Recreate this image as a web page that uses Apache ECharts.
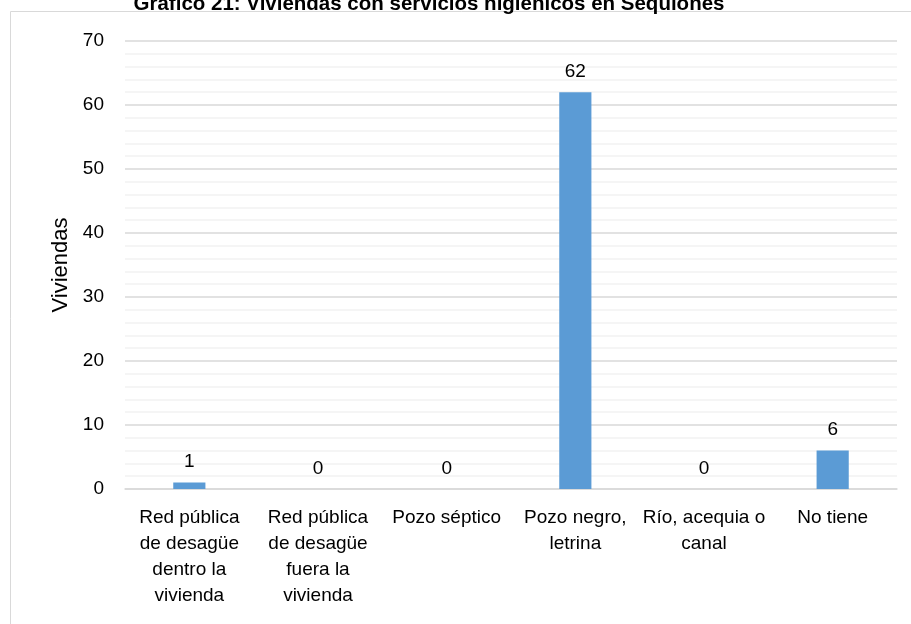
<!DOCTYPE html>
<html>
<head>
<meta charset="utf-8">
<script src="https://cdn.jsdelivr.net/npm/echarts@6/dist/echarts.min.js"></script>
<style>
  html, body { margin: 0; padding: 0; background: #fff; }
  #chart { width: 911px; height: 624px; }
</style>
</head>
<body>
<div id="chart"></div>
<script>
// datos del gráfico
const categories = [
  "Red pública\nde desagüe\ndentro la\nvivienda",
  "Red pública\nde desagüe\nfuera la\nvivienda",
  "Pozo séptico",
  "Pozo negro,\nletrina",
  "Río, acequia o\ncanal",
  "No tiene",
];
const viviendas = [1, 0, 0, 62, 0, 6];
const titleText = "Gráfico 21: Viviendas con servicios higiénicos en Sequiones";
const yName = "Viviendas";

const FONT = "'Liberation Sans', Arial, sans-serif";

const chart = echarts.init(document.getElementById("chart"));
chart.setOption({
  animation: false,
  textStyle: { fontFamily: FONT },
  title: {
    text: titleText,
    left: 424,
    textAlign: "center",
    top: -11,
    textStyle: { fontFamily: FONT, fontSize: 20.5, fontWeight: "bold", color: "#000" },
  },
  graphic: [
    {
      // marco del gráfico (se sale por la derecha y abajo)
      type: "rect",
      shape: { x: 10.5, y: 11.5, width: 1000, height: 700 },
      style: { fill: "none", stroke: "#d9d9d9", lineWidth: 1 },
      silent: true,
      z: -1,
    },
  ],
  grid: { left: 125, right: 14, top: 41, bottom: 135 },
  xAxis: {
    type: "category",
    data: categories,
    axisLine: { show: true, lineStyle: { color: "#d9d9d9", width: 1.5 } },
    axisTick: { show: false },
    axisLabel: {
      interval: 0,
      margin: 16,
      fontSize: 19,
      lineHeight: 26,
      color: "#000",
      fontFamily: FONT,
    },
  },
  yAxis: {
    type: "value",
    min: 0,
    max: 70,
    interval: 10,
    name: yName,
    nameLocation: "middle",
    nameGap: 52,
    nameTextStyle: { fontSize: 22, color: "#000", fontFamily: FONT },
    axisLine: { show: false },
    axisTick: { show: false },
    axisLabel: { margin: 21, fontSize: 19, color: "#000", fontFamily: FONT },
    splitLine: { lineStyle: { color: "#d9d9d9", width: 1.5 } },
    minorTick: { show: false, splitNumber: 5 },
    minorSplitLine: { show: true, lineStyle: { color: "#f2f2f2", width: 1.5 } },
  },
  series: [
    {
      type: "bar",
      data: viviendas,
      barWidth: "25%",
      itemStyle: { color: "#5b9bd5" },
      label: {
        show: true,
        position: "top",
        distance: 11,
        fontSize: 19,
        color: "#000",
        fontFamily: FONT,
      },
    },
  ],
});
</script>
</body>
</html>
